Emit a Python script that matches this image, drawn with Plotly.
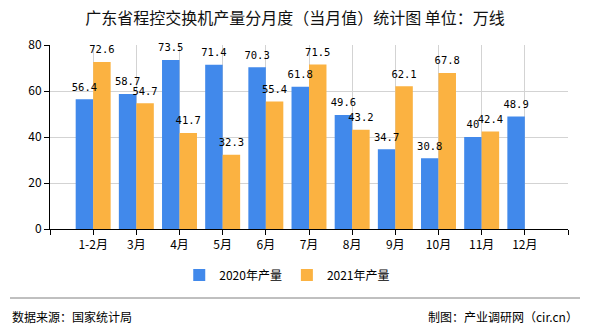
import plotly.graph_objects as go

categories = ["1-2月", "3月", "4月", "5月", "6月", "7月", "8月", "9月", "10月", "11月", "12月"]
values_2020 = [56.4, 58.7, 73.5, 71.4, 70.3, 61.8, 49.6, 34.7, 30.8, 40, 48.9]
values_2021 = [72.6, 54.7, 41.7, 32.3, 55.4, 71.5, 43.2, 62.1, 67.8, 42.4, None]
y_ticks = [0, 20, 40, 60, 80]

x_idx = list(range(len(categories)))
label_font = dict(family="DejaVu Sans Mono, monospace", size=10.5, color="#000000")
BARGAP = 0.19
half = (1 - BARGAP) / 4  # offset of each bar's centre from category centre

def fmt(v):
    if v is None:
        return ""
    return ("%g" % v)

fig = go.Figure()
fig.add_trace(go.Bar(
    x=x_idx, y=values_2020, name="2020年产量",
    marker=dict(color="#4189EB", line=dict(width=0)),
))
fig.add_trace(go.Bar(
    x=x_idx, y=values_2021, name="2021年产量",
    marker=dict(color="#FBB241", line=dict(width=0)),
))
# value labels drawn on top of all bars
for vals, off in ((values_2020, -half), (values_2021, half)):
    xs = [i + off for i, v in zip(x_idx, vals) if v is not None]
    ys = [v for v in vals if v is not None]
    fig.add_trace(go.Scatter(
        x=xs, y=ys, mode="markers+text", text=[fmt(v) for v in ys],
        marker=dict(size=8, opacity=0),
        textposition="top center", textfont=label_font,
        showlegend=False, hoverinfo="skip", cliponaxis=False,
    ))

tickvals = list(range(-1, len(categories) + 1))
ticktext = [""] + categories + [""]

fig.update_layout(
    width=590, height=330,
    margin=dict(l=50, r=22, t=45, b=101),
    paper_bgcolor="white", plot_bgcolor="white",
    barmode="group", bargap=BARGAP, bargroupgap=0,
    font=dict(family="Noto Sans CJK SC, sans-serif", size=12, color="#000"),
    title=dict(text="广东省程控交换机产量分月度（当月值）统计图 单位：万线",
               x=0.5, xanchor="center", y=0.945, yanchor="middle",
               font=dict(size=16, color="#111")),
    showlegend=True,
    legend=dict(orientation="h", x=0.458, xanchor="center", y=-0.25, yanchor="middle",
                font=dict(size=12), itemwidth=30, traceorder="normal"),
    xaxis=dict(
        range=[-1, len(categories)], tickmode="array",
        tickvals=tickvals, ticktext=ticktext,
        showgrid=True, gridcolor="#D3D3D3", gridwidth=1,
        showline=True, linecolor="#000", linewidth=1,
        ticks="outside", ticklen=5, tickcolor="#000",
        tickfont=dict(size=12), zeroline=False,
    ),
    yaxis=dict(
        range=[0, 80], tickmode="array", tickvals=y_ticks,
        showgrid=True, gridcolor="#D3D3D3", gridwidth=1,
        showline=True, linecolor="#000", linewidth=1,
        ticks="outside", ticklen=5, tickcolor="#000",
        tickfont=dict(size=12), zeroline=False,
    ),
    shapes=[dict(type="line", xref="paper", yref="paper",
                 x0=-40/518, x1=(580-50)/518, y0=-(298-229)/184, y1=-(298-229)/184,
                 line=dict(color="#808080", width=1))],
    annotations=[
        dict(text="数据来源：国家统计局", xref="paper", yref="paper",
             x=-40/518, y=-(316-229)/184, xanchor="left", yanchor="middle",
             showarrow=False, font=dict(size=12, color="#000")),
        dict(text="制图：产业调研网（cir.cn）", xref="paper", yref="paper",
             x=(580-50)/518, y=-(316-229)/184, xanchor="right", yanchor="middle",
             showarrow=False, font=dict(size=12, color="#000")),
    ],
)

fig.write_html("out.html")
